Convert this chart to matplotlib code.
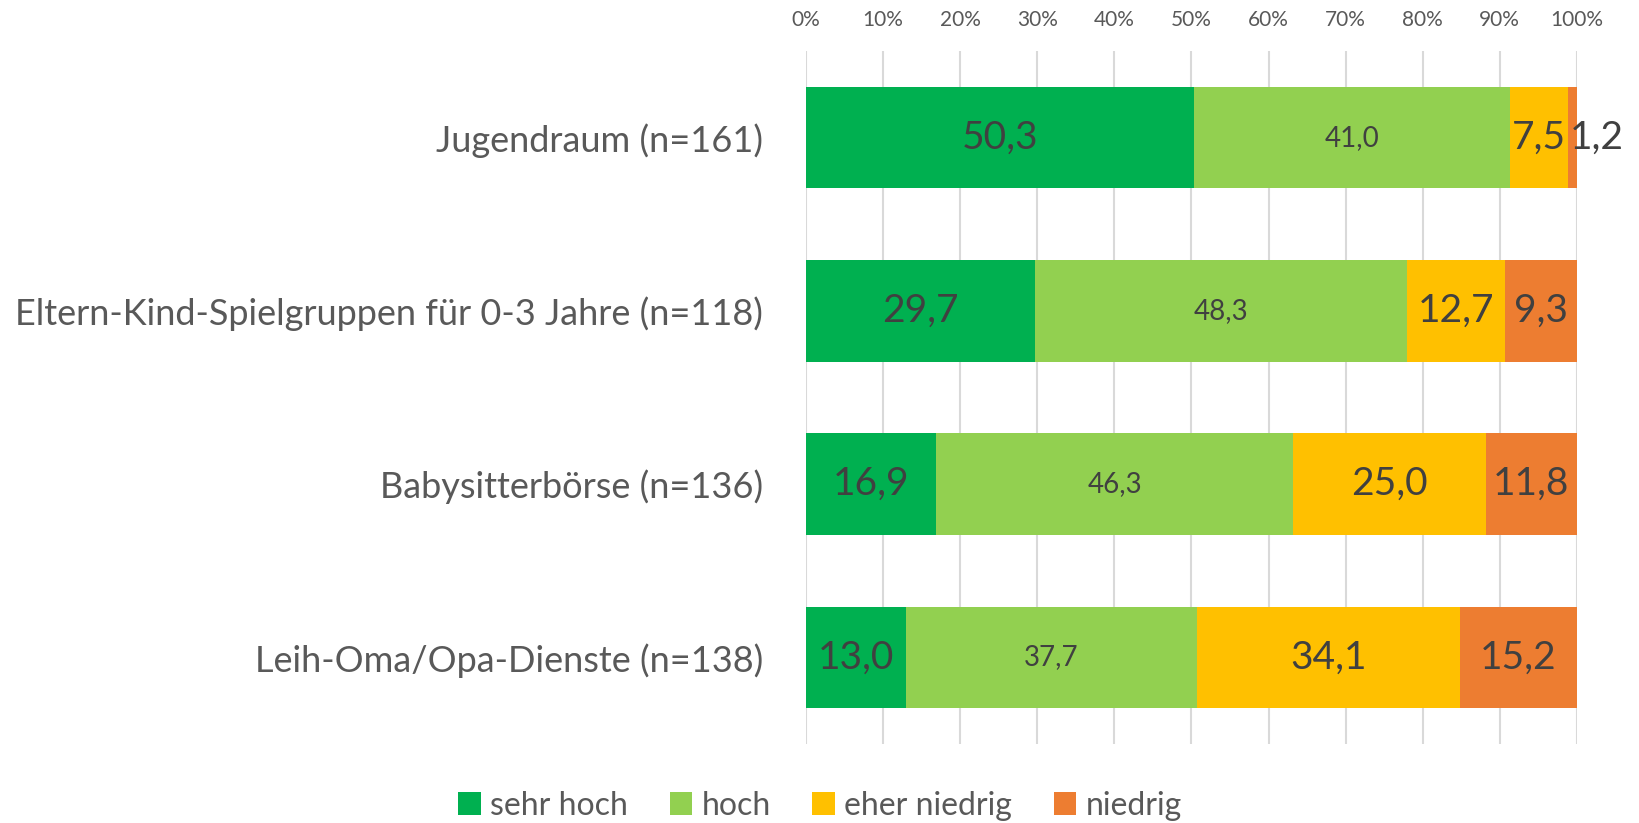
import matplotlib
matplotlib.use("Agg")
import matplotlib.pyplot as plt
import numpy as np

plt.rcParams['font.family'] = ['Lato', 'DejaVu Sans']

categories = ["Jugendraum (n=161)",
              "Eltern-Kind-Spielgruppen für 0-3 Jahre (n=118)",
              "Babysitterbörse (n=136)",
              "Leih-Oma/Opa-Dienste (n=138)"]
series = ["sehr hoch", "hoch", "eher niedrig", "niedrig"]
sehr_hoch = [50.3, 29.7, 16.9, 13.0]
hoch = [41.0, 48.3, 46.3, 37.7]
eher_niedrig = [7.5, 12.7, 25.0, 34.1]
niedrig = [1.2, 9.3, 11.8, 15.2]
colors = ["#00B050", "#92D050", "#FFC000", "#ED7D31"]
label_sizes = [28, 20, 28, 28]

fig = plt.figure(figsize=(16.4, 8.23), dpi=100)
ax = fig.add_axes([0.4915, 0.096, 0.47, 0.842])

y = np.arange(len(categories))
left = np.zeros(len(categories))
for name, vals, col, fs in zip(series, [sehr_hoch, hoch, eher_niedrig, niedrig], colors, label_sizes):
    vals = np.array(vals)
    bars = ax.barh(y, vals, left=left, height=0.585, color=col, label=name, zorder=3)
    for b, v in zip(bars, vals):
        txt = f"{v:.1f}".replace(".", ",")
        cy = b.get_y() + b.get_height() / 2
        if v < 3:
            # too narrow: label starts at the bar
            ax.text(b.get_x() + 0.3, cy, txt, ha="left", va="center",
                    fontsize=fs, color="#404040", zorder=4)
        else:
            ax.text(b.get_x() + b.get_width() / 2, cy, txt, ha="center", va="center",
                    fontsize=fs, color="#404040", zorder=4)
    left += vals

ax.set_ylim(3.5, -0.5)
ax.set_xlim(0, 100)
ax.set_yticks(y)
ax.set_yticklabels(categories, fontsize=26, color="#595959")
ax.set_xticks(np.arange(0, 101, 10))
ax.set_xticklabels([f"{t}%" for t in range(0, 101, 10)], fontsize=15, color="#595959")
ax.xaxis.tick_top()
ax.tick_params(axis="both", length=0)
ax.tick_params(axis="x", pad=15)
ax.tick_params(axis="y", pad=31)
ax.grid(axis="x", color="#D9D9D9", linewidth=1.5, zorder=0)
for s in ax.spines.values():
    s.set_visible(False)

leg = fig.legend(loc="lower center", bbox_to_anchor=(0.5, -0.032), ncol=4, frameon=False,
                 fontsize=23, handlelength=0.7, handleheight=0.7, handletextpad=0.3,
                 columnspacing=1.3)
for t in leg.get_texts():
    t.set_color("#595959")

fig.savefig("out.png", dpi=100)
plt.close()
